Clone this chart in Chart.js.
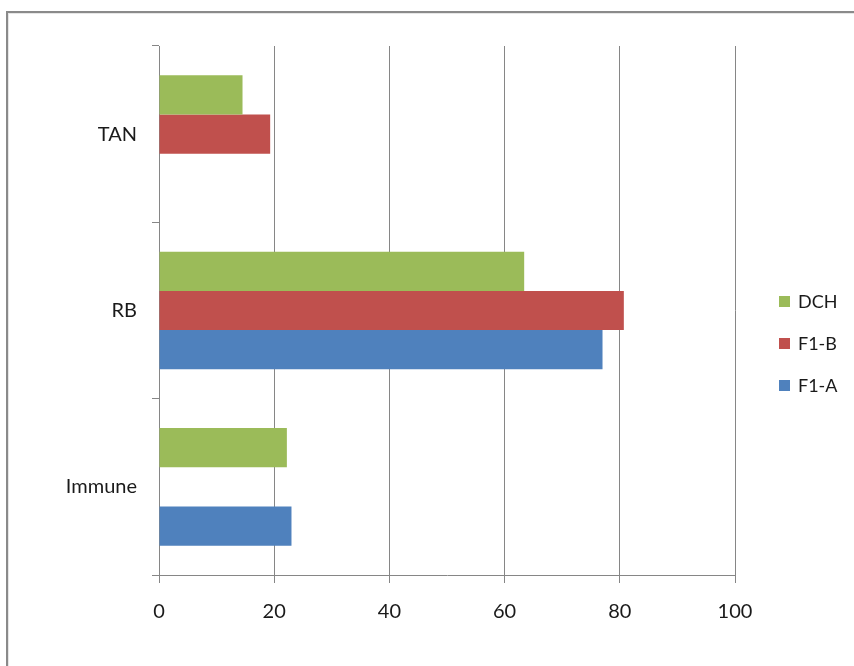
<!DOCTYPE html>
<html lang="en">
<head>
  <meta charset="UTF-8" />
  <title>TAN / RB / Immune</title>
  <script src="https://cdn.jsdelivr.net/npm/chart.js"></script>
  <style>
    html, body {
      margin: 0;
      padding: 0;
      background: #fff;
      overflow: hidden;
      width: 854px;
      height: 666px;
    }
    #frame {
      position: absolute;
      left: 6px;
      top: 11px;
      width: 900px;
      height: 700px;
      border: 2px solid #8a8a8a;
      box-shadow: inset 1px 1px 0 #e6e6e6;
    }
    #chart {
      position: absolute;
      left: 0;
      top: 0;
    }
    #legend {
      position: absolute;
      left: 779px;
      top: 280px;
      font-family: Lato, sans-serif;
      font-size: 18px;
      color: #1a1a1a;
    }
    #legend .item {
      height: 42px;
      display: flex;
      align-items: center;
    }
    #legend .swatch {
      width: 11px;
      height: 11px;
      margin-right: 8px;
    }
  </style>
</head>
<body>
  <div id="frame"></div>
  <canvas id="chart" width="854" height="666"></canvas>
  <div id="legend"></div>

  <script>
    const categories = ['TAN', 'RB', 'Immune'];
    const dchValues = [14.5, 63.4, 22.2];
    const f1bValues = [19.3, 80.7, null];
    const f1aValues = [null, 77.0, 23.0];
    const xTicks = [0, 20, 40, 60, 80, 100];

    const gridColor = '#868686';
    const tickFont = { family: 'Lato', size: 20 };

    const ctx = document.getElementById('chart').getContext('2d');
    const chart = new Chart(ctx, {
      type: 'bar',
      data: {
        labels: categories,
        datasets: [
          { label: 'DCH', data: dchValues, backgroundColor: '#9bbb59' },
          { label: 'F1-B', data: f1bValues, backgroundColor: '#c0504d' },
          { label: 'F1-A', data: f1aValues, backgroundColor: '#4f81bd' }
        ]
      },
      options: {
        indexAxis: 'y',
        responsive: false,
        animation: false,
        devicePixelRatio: 1,
        categoryPercentage: 0.667,
        barPercentage: 1,
        borderWidth: 0,
        layout: {
          padding: { left: 0, top: 46, right: 119, bottom: 0 }
        },
        scales: {
          x: {
            min: xTicks[0],
            max: xTicks[xTicks.length - 1],
            afterBuildTicks: (scale) => {
              scale.ticks = xTicks.map(v => ({ value: v }));
            },
            afterFit: (scale) => { scale.height = 91; },
            grid: { color: gridColor, tickLength: 8 },
            border: { color: gridColor },
            ticks: { font: tickFont, color: '#1a1a1a', padding: 17, maxRotation: 0 }
          },
          y: {
            afterFit: (scale) => { scale.width = 159; },
            grid: {
              offset: true,
              drawOnChartArea: false,
              tickLength: 7,
              color: gridColor
            },
            border: { color: gridColor },
            ticks: { font: tickFont, color: '#1a1a1a', padding: 15 }
          }
        },
        plugins: {
          legend: { display: false },
          tooltip: { enabled: false }
        }
      }
    });

    // legend list built from the datasets
    const legendEl = document.getElementById('legend');
    chart.data.datasets.forEach(ds => {
      const item = document.createElement('div');
      item.className = 'item';
      const swatch = document.createElement('span');
      swatch.className = 'swatch';
      swatch.style.background = ds.backgroundColor;
      const text = document.createElement('span');
      text.textContent = ds.label;
      item.appendChild(swatch);
      item.appendChild(text);
      legendEl.appendChild(item);
    });
  </script>
</body>
</html>
